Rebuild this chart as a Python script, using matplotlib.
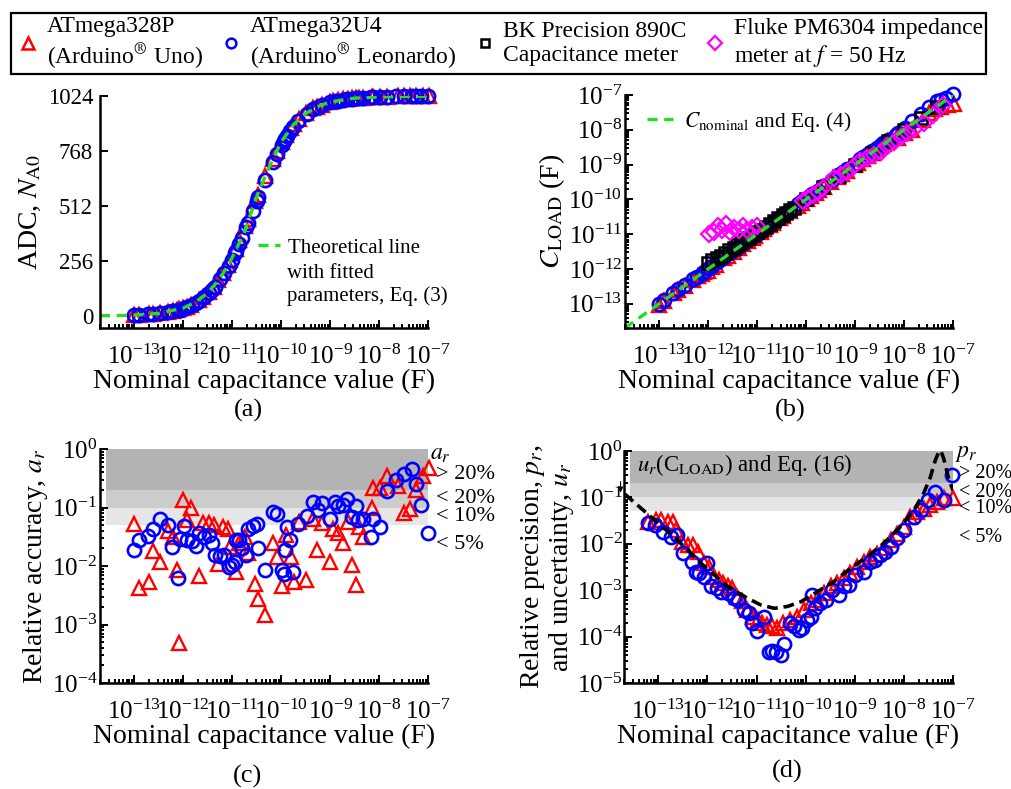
import numpy as np
import matplotlib
matplotlib.use("Agg")
import matplotlib.pyplot as plt
from matplotlib.lines import Line2D
from matplotlib.ticker import LogLocator, FixedLocator

plt.rcParams['font.family'] = ['Liberation Serif', 'DejaVu Serif']
plt.rcParams['mathtext.fontset'] = 'stix'

###
# DATA (capacitances kept as log10 of farads)
###

# ATmega328P (Arduino Uno): nominal C, relative accuracy, ADC reading
uno_log_c = [-13.00, -12.91, -12.69, -12.61, -12.48, -12.30, -12.20, -12.13, -12.08, -12.01,
             -11.93, -11.84, -11.67, -11.60, -11.48, -11.38, -11.28, -11.18, -11.09, -11.04,
             -10.93, -10.85, -10.73, -10.67, -10.53, -10.48, -10.33, -10.17, -10.09, -9.99,
             -9.90, -9.80, -9.73, -9.63, -9.49, -9.34, -9.26, -9.17, -9.00, -8.95,
             -8.83, -8.73, -8.64, -8.56, -8.47, -8.40, -8.32, -8.15, -8.12, -7.98,
             -7.83, -7.61, -7.49, -7.36, -7.24, -7.11, -6.98]
uno_log_ar = [-1.28, -2.37, -2.28, -1.74, -1.94, -1.41, -1.50, -2.07, -3.31, -0.87,
              -1.21, -1.01, -2.17, -1.27, -1.27, -1.30, -1.97, -1.34, -1.37, -1.67,
              -2.10, -1.61, -1.50, -1.78, -2.30, -2.57, -2.84, -1.61, -1.84, -2.34,
              -1.47, -1.84, -2.28, -1.24, -2.24, -1.19, -1.73, -1.27, -1.93, -1.36,
              -1.44, -1.60, -1.24, -1.98, -2.32, -1.33, -1.50, -1.01, -0.67, -0.67,
              -0.46, -0.64, -1.10, -1.03, -0.70, -0.47, -0.33]
uno_adc = [4, 5, 8, 9, 12, 19, 23, 27, 31, 36,
           43, 52, 75, 87, 112, 137, 167, 201, 237, 259,
           311, 352, 418, 453, 535, 564, 650, 732, 768, 810,
           843, 875, 894, 918, 944, 966, 975, 984, 996, 999,
           1005, 1008, 1011, 1013, 1015, 1016, 1017, 1019, 1019, 1020,
           1021, 1022, 1022, 1022, 1023, 1023, 1023]

# ATmega32U4 (Arduino Leonardo)
leo_log_c = [-13.01, -12.91, -12.71, -12.61, -12.48, -12.30, -12.23, -12.11, -12.06, -11.99,
             -11.93, -11.82, -11.73, -11.67, -11.57, -11.48, -11.41, -11.35, -11.24, -11.16,
             -11.07, -11.01, -10.94, -10.92, -10.85, -10.80, -10.71, -10.67, -10.58, -10.50,
             -10.47, -10.33, -10.17, -10.09, -9.99, -9.95, -9.92, -9.88, -9.82, -9.75,
             -9.65, -9.48, -9.34, -9.24, -9.17, -9.01, -8.90, -8.83, -8.74, -8.66,
             -8.56, -8.47, -8.42, -8.33, -8.17, -8.12, -7.98, -7.83, -7.65, -7.49,
             -7.33, -7.24, -7.14, -6.99]
leo_log_ar = [-1.73, -1.56, -1.48, -1.36, -1.20, -1.30, -1.68, -2.21, -1.53, -1.32,
              -1.56, -1.57, -1.66, -1.44, -1.50, -1.47, -1.60, -1.81, -1.83, -1.81,
              -2.01, -1.98, -1.94, -1.55, -1.56, -1.70, -1.81, -1.36, -1.32, -1.28,
              -1.70, -2.07, -1.07, -1.11, -2.06, -2.13, -1.72, -1.34, -1.56, -2.11,
              -1.28, -1.15, -0.90, -1.05, -0.93, -1.19, -0.90, -0.97, -0.96, -0.86,
              -1.16, -0.97, -1.21, -1.19, -1.50, -1.20, -1.33, -0.72, -0.53, -0.42,
              -0.35, -0.60, -0.95, -1.43]
leo_adc = [3, 4, 7, 9, 12, 18, 21, 27, 30, 35,
           40, 51, 62, 71, 87, 105, 122, 137, 170, 198,
           233, 259, 291, 301, 336, 363, 413, 435, 488, 535,
           553, 633, 717, 754, 798, 814, 825, 839, 859, 880,
           906, 941, 962, 974, 981, 994, 1000, 1003, 1007, 1010,
           1012, 1014, 1015, 1017, 1019, 1019, 1020, 1021, 1022, 1022,
           1022, 1023, 1023, 1023]

# theoretical ADC line, Eq. (3)
theory_log_c = [-13.7, -13.3, -13.0, -12.5, -12.0, -11.75, -11.5, -11.25, -11.0, -10.75, -10.5,
                -10.25, -10.0, -9.75, -9.5, -9.25, -9.0, -8.5, -8.0, -7.5, -7.0]
theory_adc = [1, 2, 4, 12, 37, 64, 107, 174, 271, 390, 555,
              690, 810, 890, 942, 975, 996, 1014, 1020, 1022, 1023]

# BK Precision 890C capacitance meter
bk_c_nom = [1.0e-12, 1.2e-12, 1.5e-12, 1.8e-12, 2.2e-12, 2.7e-12, 3.3e-12, 3.9e-12, 4.7e-12, 5.6e-12,
            6.8e-12, 8.2e-12, 1.0e-11, 1.2e-11, 1.5e-11, 1.8e-11, 2.2e-11, 2.7e-11, 3.3e-11, 3.9e-11,
            4.7e-11, 5.6e-11, 1.0e-10, 2.2e-10, 4.7e-10, 1.0e-9, 2.2e-9, 4.7e-9, 1.0e-8, 2.2e-8, 4.7e-8]
bk_c_meas = [1.5e-12, 1.75e-12, 2.1e-12, 2.4e-12, 2.9e-12, 3.5e-12, 4.1e-12, 4.8e-12, 5.6e-12, 6.6e-12,
             7.8e-12, 9.3e-12, 1.12e-11, 1.33e-11, 1.65e-11, 1.97e-11, 2.4e-11, 2.9e-11, 3.5e-11, 4.1e-11,
             4.9e-11, 5.8e-11, 1.02e-10, 2.25e-10, 4.8e-10, 1.0e-9, 2.2e-9, 4.7e-9, 1.0e-8, 2.2e-8, 4.5e-8]

# Fluke PM6304 at 50 Hz
fluke_log_c = [-11.99, -11.89, -11.80, -11.72, -11.64, -11.55, -11.47, -11.37, -11.28, -11.20,
               -11.11, -11.01, -10.07, -9.97, -9.86, -9.76, -9.66, -9.43, -9.29, -9.16,
               -9.02, -8.89, -8.75, -8.61, -8.48, -8.34, -8.21, -8.07, -7.94, -7.80,
               -7.60, -7.40, -7.20]
fluke_log_meas = [-10.99, -10.93, -10.78, -10.87, -10.72, -10.94, -10.82, -10.88, -10.77, -10.87,
                  -10.82, -10.78, -10.06, -9.97, -9.87, -9.78, -9.68, -9.39, -9.30, -9.20,
                  -9.04, -8.91, -8.82, -8.72, -8.63, -8.48, -8.34, -8.20, -8.10, -7.99,
                  -7.81, -7.57, -7.29]

# C_nominal line, Eq. (4)
ideal_c = [2e-14, 1e-7]

# relative precision p_r (panel d)
prec_uno_log_c = [-13.22, -13.05, -12.95, -12.81, -12.71, -12.64, -12.51, -12.40, -12.30, -12.20,
                  -12.07, -11.96, -11.86, -11.76, -11.69, -11.59, -11.49, -11.39, -11.29, -11.19,
                  -11.08, -10.98, -10.88, -10.78, -10.68, -10.58, -10.47, -10.31, -10.17, -10.03,
                  -9.90, -9.76, -9.63, -9.49, -9.36, -9.22, -9.09, -8.95, -8.82, -8.68,
                  -8.55, -8.41, -8.27, -8.14, -8.00, -7.87, -7.73, -7.60, -7.46, -7.33,
                  -7.19, -6.99]
prec_uno_log = [-1.53, -1.49, -1.48, -1.53, -1.53, -1.70, -1.96, -2.03, -2.03, -2.17,
                -2.42, -2.49, -2.71, -2.78, -2.85, -2.92, -2.96, -3.14, -3.24, -3.42,
                -3.57, -3.64, -3.71, -3.75, -3.78, -3.82, -3.71, -3.64, -3.57, -3.42,
                -3.28, -3.21, -3.07, -2.92, -2.85, -2.74, -2.64, -2.49, -2.39, -2.28,
                -2.21, -2.10, -1.92, -1.78, -1.63, -1.42, -1.31, -1.24, -1.17, -1.10,
                -1.02, -1.02]
prec_leo_log_c = [-13.22, -13.07, -12.91, -12.74, -12.61, -12.49, -12.32, -12.23, -12.17, -12.07,
                  -12.00, -11.93, -11.81, -11.73, -11.59, -11.46, -11.38, -11.25, -11.15, -11.10,
                  -11.00, -10.85, -10.75, -10.68, -10.61, -10.51, -10.45, -10.32, -10.24, -10.14,
                  -10.07, -9.97, -9.90, -9.87, -9.80, -9.70, -9.59, -9.46, -9.32, -9.22,
                  -9.12, -8.99, -8.82, -8.68, -8.58, -8.48, -8.38, -8.27, -8.14, -8.00,
                  -7.80, -7.65, -7.50, -7.36, -7.19, -7.02]
prec_leo_log = [-1.56, -1.60, -1.74, -1.85, -1.81, -2.19, -2.39, -2.60, -2.64, -2.71,
                -2.42, -2.92, -2.96, -3.03, -3.07, -3.17, -3.21, -3.42, -3.50, -3.70,
                -3.87, -3.57, -4.34, -4.32, -4.34, -4.39, -4.15, -3.71, -3.78, -3.85,
                -3.82, -3.64, -3.57, -3.10, -3.39, -3.28, -3.21, -2.99, -3.10, -2.92,
                -2.89, -2.67, -2.60, -2.39, -2.35, -2.24, -2.17, -2.06, -1.88, -1.70,
                -1.42, -1.28, -1.05, -0.88, -1.06, -0.52]

# u_r(C_LOAD), Eq. (16)
unc_log_c = [-13.68, -13.15, -12.68, -12.13, -11.59, -11.19, -10.91, -10.64, -10.37, -10.10,
             -9.76, -9.43, -9.09, -8.75, -8.41, -8.07, -7.80, -7.60, -7.46, -7.36,
             -7.29, -7.25, -7.19, -7.09, -7.00]
unc_log = [-0.93, -1.42, -1.85, -2.42, -2.92, -3.17, -3.32, -3.39, -3.35, -3.25,
           -3.03, -2.82, -2.53, -2.28, -1.99, -1.63, -1.28, -0.92, -0.56, -0.20,
           -0.02, 0.01, -0.16, -0.59, -0.85]

# shaded accuracy / precision classes
band_edges = [0.05, 0.1, 0.2, 1.0]
band_colors = ['#e6e6e6', '#cccccc', '#b3b3b3']
band_labels = ['> 20%', '< 20%', '< 10%', '< 5%']

###
# STYLE
###
RED, BLUE, MAG, GREEN = '#ff0000', '#0000ff', '#ff00ff', '#22dd22'
W, H = 1011, 789
XMIN, XMAX = 2e-14, 1e-7
TICK_FS = 18
LABEL_FS = 20


def px_axes(fig, x0, y0, x1, y1):
    # place axes by pixel box (left, top, right, bottom)
    return fig.add_axes([x0 / W, 1 - y1 / H, (x1 - x0) / W, (y1 - y0) / H])


def style_axes(ax, ypad=2):
    for s in ['top', 'right']:
        ax.spines[s].set_visible(False)
    for s in ['left', 'bottom']:
        ax.spines[s].set_linewidth(1.8)
    ax.set_xscale('log')
    ax.set_xlim(XMIN, XMAX)
    ax.xaxis.set_major_locator(LogLocator(base=10, numticks=20))
    ax.xaxis.set_minor_locator(LogLocator(base=10, subs=np.arange(2, 10), numticks=20))
    ax.tick_params(which='both', direction='in', width=1.4, labelsize=TICK_FS)
    ax.tick_params(which='major', length=6)
    ax.tick_params(which='minor', length=3)
    ax.tick_params(axis='x', pad=12)
    ax.tick_params(axis='y', pad=ypad)
    ax.set_xlabel('Nominal capacitance value (F)', fontsize=LABEL_FS, labelpad=0)


def log_y(ax, lo, hi):
    ax.set_yscale('log')
    ax.set_ylim(lo, hi)
    ax.yaxis.set_major_locator(LogLocator(base=10, numticks=20))
    ax.yaxis.set_minor_locator(LogLocator(base=10, subs=np.arange(2, 10), numticks=20))


def pw(v):
    return np.power(10.0, v)


tri = dict(marker='^', ls='none', mfc='none', mec=RED, mew=1.7, ms=10, clip_on=False)
cir = dict(marker='o', ls='none', mfc='none', mec=BLUE, mew=1.9, ms=9.5, clip_on=False)

fig = plt.figure(figsize=(W / 100, H / 100), dpi=100)

###
# (a) ADC reading
###
ax = px_axes(fig, 100, 96, 428, 328)
style_axes(ax, ypad=5)
ax.plot(pw(uno_log_c), uno_adc, **tri)
ax.plot(pw(leo_log_c), leo_adc, **cir)
th, = ax.plot(pw(theory_log_c), theory_adc, ls=(0, (3, 2)), color=GREEN, lw=2.4)
ax.set_ylim(-56, 1024)
ax.yaxis.set_major_locator(FixedLocator([0, 256, 512, 768, 1024]))
ax.tick_params(axis='y', labelsize=16.5)
ax.set_ylabel(r'ADC, $N_{\mathrm{A0}}$', fontsize=LABEL_FS, labelpad=3)
ax.legend([th], ['Theoretical line'], loc='center left', bbox_to_anchor=(0.482, 0.345),
          frameon=False, fontsize=15, handlelength=1.05, handletextpad=0.4,
          borderpad=0, borderaxespad=0)
ax.text(0.570, 0.216, 'with fitted', transform=ax.transAxes, fontsize=15, va='baseline')
ax.text(0.570, 0.116, 'parameters, Eq. (3)', transform=ax.transAxes, fontsize=15, va='baseline')
fig.text(248 / W, 1 - 410 / H, '(a)', fontsize=19, ha='center', va='center')

###
# (b) C_LOAD against nominal value
###
ax = px_axes(fig, 625, 95, 953, 328)
style_axes(ax)
log_y(ax, XMIN, XMAX)
uno_c = pw(uno_log_c)
leo_c = pw(leo_log_c)
# C_LOAD = C_nominal (1 -/+ a_r), a_r as read in panel (c)
ax.plot(uno_c, uno_c * (1 - pw(uno_log_ar)), **tri)
ax.plot(leo_c, leo_c * (1 + pw(leo_log_ar)), **cir)
ax.plot(bk_c_nom, bk_c_meas, marker='s', ls='none', mfc='none', mec='black', mew=1.8, ms=8)
ax.plot(pw(fluke_log_c), pw(fluke_log_meas), marker='D', ls='none', mfc='none', mec=MAG,
        mew=1.6, ms=8)
ideal, = ax.plot(ideal_c, ideal_c, ls=(0, (3, 2)), color=GREEN, lw=2.4)
ax.set_ylabel(r'$C_{\mathrm{LOAD}}$ (F)', fontsize=LABEL_FS, labelpad=1)
ax.legend([ideal], [r'$C_{\mathrm{nominal}}$ and Eq. (4)'], loc='center left',
          bbox_to_anchor=(0.067, 0.884), frameon=False, fontsize=15.5, handlelength=1.2,
          handletextpad=0.5, borderpad=0, borderaxespad=0)
fig.text(790 / W, 1 - 410 / H, '(b)', fontsize=19, ha='center', va='center')


def add_bands(ax, sym, label_ys, fs, xlab):
    for lo, hi, col in zip(band_edges[:-1], band_edges[1:], band_colors):
        ax.fill_between([2.7e-14, XMAX], lo, hi, color=col, lw=0, zorder=0)
    tr = ax.get_yaxis_transform()
    ax.text(1.006, label_ys[0], sym, transform=tr, fontsize=17, va='center', ha='left')
    for lab, yv in zip(band_labels, label_ys[1:]):
        ax.text(xlab, yv, lab, transform=tr, fontsize=fs, va='center', ha='left')


###
# (c) relative accuracy
###
ax = px_axes(fig, 100, 449, 428, 683)
style_axes(ax)
log_y(ax, 1e-4, 1)
add_bands(ax, r'$a_r$', [0.82, 0.37, 0.14, 0.069, 0.023], 16, 1.024)
ax.plot(pw(uno_log_c), pw(uno_log_ar), **tri)
ax.plot(pw(leo_log_c), pw(leo_log_ar), **cir)
ax.set_ylabel(r'Relative accuracy, $a_r$', fontsize=LABEL_FS, labelpad=1)
fig.text(248 / W, 1 - 776 / H, '(c)', fontsize=19, ha='center', va='center')

###
# (d) relative precision and uncertainty
###
ax = px_axes(fig, 624, 451, 953, 683)
style_axes(ax, ypad=1)
log_y(ax, 1e-5, 1)
add_bands(ax, r'$p_r$', [0.9, 0.33, 0.13, 0.059, 0.014], 14.5, 1.018)
ax.plot(pw(prec_uno_log_c), pw(prec_uno_log), **tri)
ax.plot(pw(prec_leo_log_c), pw(prec_leo_log), **cir)
ax.plot(pw(unc_log_c), pw(unc_log), ls=(0, (3, 1.6)), color='black', lw=2.6)
ax.annotate('', xy=(1.7e-14, 0.11), xytext=(1.7e-14, 0.25), annotation_clip=False,
            arrowprops=dict(arrowstyle='-|>', color='black', lw=0.8, mutation_scale=8))
ax.text(0.04, 0.49, r'$u_r$(C$_{\mathrm{LOAD}}$) and Eq. (16)', transform=ax.get_yaxis_transform(),
        fontsize=16.5, va='center', ha='left')
ax.set_ylabel('Relative precision, $p_r$,\nand uncertainty, $u_r$', fontsize=LABEL_FS,
              labelpad=1, linespacing=1.0)
fig.text(787 / W, 1 - 771 / H, '(d)', fontsize=19, ha='center', va='center')

###
# shared legend
###
handles = [Line2D([], [], marker='^', ls='none', mfc='none', mec=RED, mew=1.8, ms=8),
           Line2D([], [], marker='o', ls='none', mfc='none', mec=BLUE, mew=1.8, ms=7),
           Line2D([], [], marker='s', ls='none', mfc='none', mec='black', mew=1.8, ms=6),
           Line2D([], [], marker='D', ls='none', mfc='none', mec=MAG, mew=1.6, ms=7)]
labels = ['ATmega328P\n(Arduino$^{\\circledR}$ Uno)',
          'ATmega32U4\n(Arduino$^{\\circledR}$ Leonardo)',
          'BK Precision 890C\nCapacitance meter',
          'Fluke PM6304 impedance\nmeter at $f$ = 50 Hz']
leg = fig.legend(handles, labels, ncol=4, loc='upper left', mode='expand',
                 bbox_to_anchor=(11 / W, 1 - 13 / H, 975 / W, 0.0), fontsize=17,
                 frameon=True, fancybox=False, edgecolor='black', framealpha=1,
                 borderpad=0.12, handlelength=1.2, handletextpad=0.2, borderaxespad=0)
leg.get_frame().set_linewidth(1.6)

fig.savefig('out.png', dpi=100)
